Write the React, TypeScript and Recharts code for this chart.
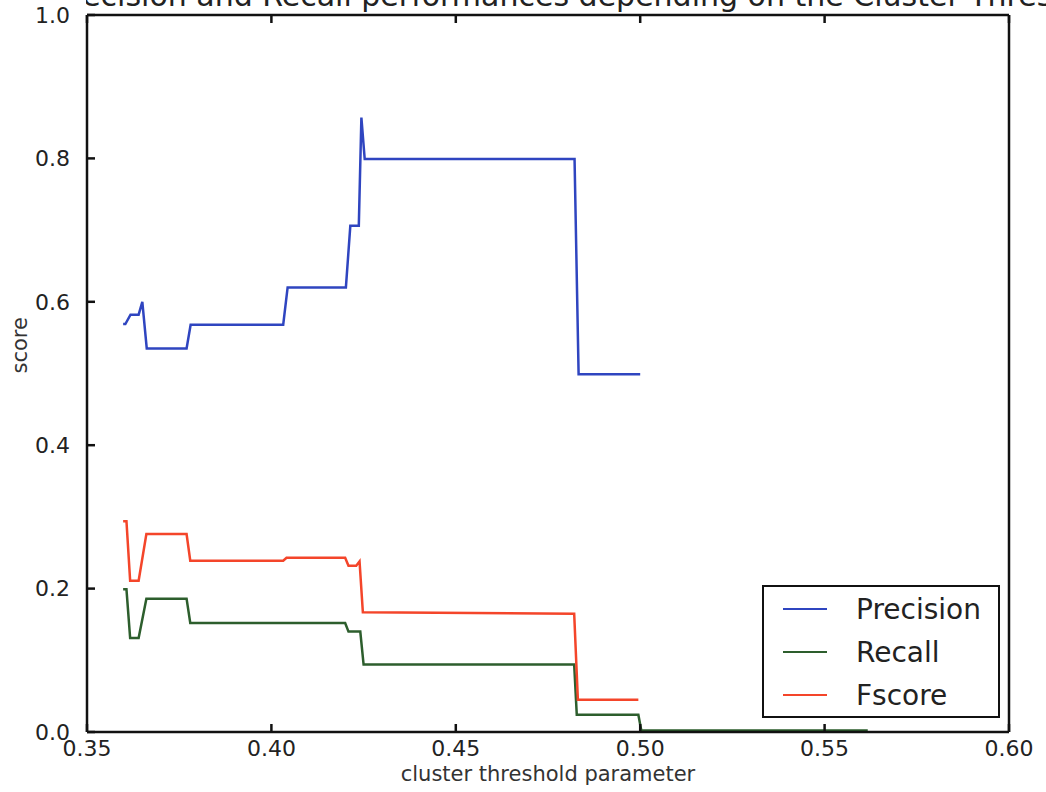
import React from 'react'
import {
  LineChart,
  Line,
  XAxis,
  YAxis,
  Legend
} from 'recharts'

const xTicks = [0.35, 0.4, 0.45, 0.5, 0.55, 0.6]
const yTicks = [0, 0.2, 0.4, 0.6, 0.8, 1.0]

const precisionX = [0.3598, 0.3604, 0.3618, 0.364, 0.365, 0.3662, 0.377, 0.3781, 0.4032, 0.4044, 0.4202, 0.4214, 0.4237, 0.4244, 0.4253, 0.4822, 0.4833, 0.5]
const precisionY = [0.569, 0.569, 0.582, 0.582, 0.6, 0.535, 0.535, 0.568, 0.568, 0.62, 0.62, 0.706, 0.706, 0.857, 0.799, 0.799, 0.499, 0.499]

const recallX = [0.3598, 0.3607, 0.3617, 0.364, 0.3661, 0.377, 0.378, 0.42, 0.4209, 0.4241, 0.425, 0.4821, 0.4828, 0.4995, 0.5003, 0.5617]
const recallY = [0.199, 0.199, 0.131, 0.131, 0.186, 0.186, 0.152, 0.152, 0.14, 0.14, 0.094, 0.094, 0.024, 0.024, 0.002, 0.002]

const fscoreX = [0.3598, 0.3607, 0.3617, 0.364, 0.3661, 0.377, 0.378, 0.4032, 0.4041, 0.42, 0.4209, 0.423, 0.4239, 0.4248, 0.4821, 0.4831, 0.4995]
const fscoreY = [0.294, 0.294, 0.211, 0.211, 0.276, 0.276, 0.239, 0.239, 0.243, 0.243, 0.232, 0.232, 0.238, 0.167, 0.165, 0.045, 0.045]

const series = [
  { name: 'Precision', color: '#2f45c0', xs: precisionX, ys: precisionY },
  { name: 'Recall', color: '#2d5e2d', xs: recallX, ys: recallY },
  { name: 'Fscore', color: '#f4452a', xs: fscoreX, ys: fscoreY }
]

const font = '"DejaVu Sans", sans-serif'

const LegendBox = () => (
  <div
    style={{
      width: 234,
      height: 129,
      border: '2px solid #111',
      background: '#fff',
      fontFamily: font,
      fontSize: 28,
      color: '#222',
      boxSizing: 'content-box'
    }}
  >
    {series.map((s, i) => (
      <div key={s.name} style={{ position: 'absolute', left: 0, top: 6 + i * 43, height: 36, display: 'flex', alignItems: 'center' }}>
        <span style={{ display: 'inline-block', width: 44, height: 0, borderTop: `2.5px solid ${s.color}`, marginLeft: 21 }} />
        <span style={{ marginLeft: 29 }}>{s.name}</span>
      </div>
    ))}
  </div>
)

export default function App() {
  return (
    <div style={{ position: 'absolute', left: 0, top: 0, width: 1046, height: 792, background: '#fff' }}>
      {/* title is cropped at the top edge, as in the scanned original */}
      <svg width={960} height={12} style={{ position: 'absolute', left: 86, top: 0, overflow: 'hidden' }}>
        <text x={499} y={6} textAnchor="middle" fontFamily={font} fontSize={30} fill="#222">
          Precision and Recall performances depending on the Cluster Threshold
        </text>
      </svg>
      <LineChart
        width={1046}
        height={792}
        margin={{ top: 14, right: 36, left: 0, bottom: 0 }}
        style={{ position: 'absolute', left: 0, top: 0 }}
      >
        <XAxis
          xAxisId="bottom"
          type="number"
          dataKey="x"
          domain={[0.35, 0.6]}
          ticks={xTicks}
          allowDataOverflow
          tickFormatter={(v: number) => v.toFixed(2)}
          height={60}
          stroke="#111"
          strokeWidth={2.5}
          tickSize={-8}
          tickMargin={16}
          tick={{ fontSize: 22, fill: '#222', fontFamily: font }}
          label={{ value: 'cluster threshold parameter', position: 'insideBottom', offset: 11, fontSize: 21, fill: '#333', fontFamily: font }}
        />
        <XAxis
          xAxisId="top"
          orientation="top"
          type="number"
          dataKey="x"
          domain={[0.35, 0.6]}
          ticks={xTicks}
          allowDataOverflow
          tickFormatter={() => ''}
          height={1}
          stroke="#111"
          strokeWidth={2.5}
          tickSize={-8}
        />
        <YAxis
          yAxisId="left"
          type="number"
          domain={[0, 1]}
          ticks={yTicks}
          tickFormatter={(v: number) => v.toFixed(1)}
          width={87}
          stroke="#111"
          strokeWidth={2.5}
          tickSize={-8}
          tickMargin={25}
          tick={{ fontSize: 22, fill: '#222', fontFamily: font }}
          label={{ value: 'score', angle: -90, position: 'insideLeft', offset: 20, fontSize: 21, fill: '#333', fontFamily: font }}
        />
        <YAxis
          yAxisId="right"
          orientation="right"
          type="number"
          domain={[0, 1]}
          ticks={yTicks}
          tickFormatter={() => ''}
          width={1}
          stroke="#111"
          strokeWidth={2.5}
          tickSize={-8}
        />
        {series.map(s => (
          <Line
            key={s.name}
            xAxisId="bottom"
            yAxisId="left"
            name={s.name}
            data={s.xs.map((x, i) => ({ x, y: s.ys[i] }))}
            dataKey="y"
            type="linear"
            stroke={s.color}
            strokeWidth={2.5}
            dot={false}
            activeDot={false}
            isAnimationActive={false}
          />
        ))}
        <Legend
          layout="vertical"
          align="center"
          verticalAlign="middle"
          content={() => <LegendBox />}
          wrapperStyle={{ left: 762, top: 585, width: 238, height: 133 }}
        />
      </LineChart>
    </div>
  )
}
